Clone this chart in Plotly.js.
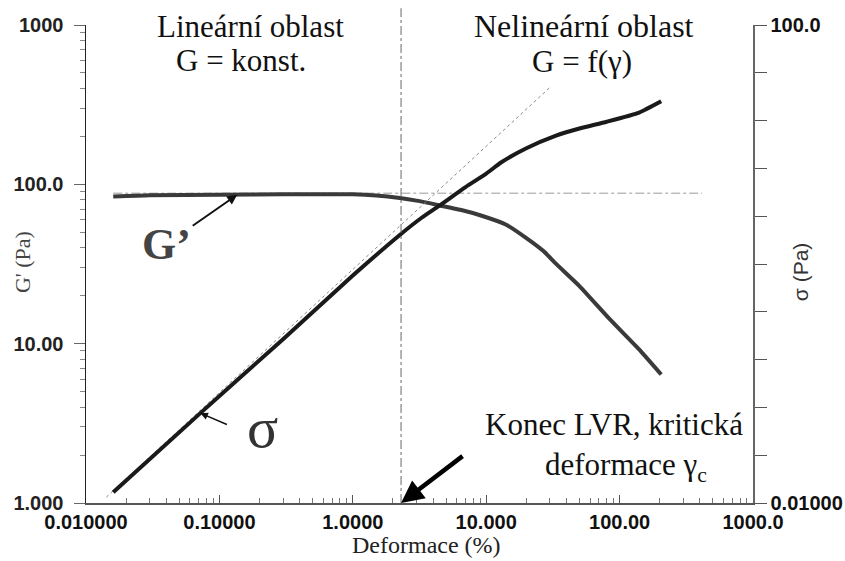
<!DOCTYPE html>
<html>
<head>
<meta charset="utf-8">
<script src="https://cdn.plot.ly/plotly-3.0.1.min.js"></script>
<style>html,body{margin:0;padding:0;background:#fff;}#chart{width:845px;height:561px;}</style>
</head>
<body>
<div id="chart"></div>
<script>
// Deformation (%) and storage modulus G' (Pa)
const strainG = [0.016, 0.03, 0.1, 0.3, 1.0, 1.5, 2.25, 3.0, 4.4, 6.5, 9.0, 14, 20, 27, 33, 50, 84, 140, 205];
const gPrime  = [84, 85.5, 86, 86.5, 86.5, 85, 82, 79, 74, 69, 64, 56, 46, 38, 32, 23, 14.3, 9.2, 6.4];
// Deformation (%) and shear stress sigma (Pa)
const strainS = [0.016, 0.072, 0.3, 1.0, 2.25, 3.3, 4.4, 7.0, 10, 13, 20, 33, 50, 80, 140, 205];
const sigma   = [0.0123, 0.0565, 0.235, 0.8, 1.75, 2.45, 3.05, 4.4, 5.7, 7.1, 9.3, 11.8, 13.6, 15.5, 18.5, 23];
// guide lines
const tangentX = [0.0142, 29.8];
const tangentS = [0.0112, 29.8];
const plateauX = [0.016, 415];
const plateauG = [88, 88];
const criticalStrain = 2.3;

const xTicks = [0.01, 0.1, 1, 10, 100, 1000];
const xTickText = ['0.010000', '0.10000', '1.0000', '10.000', '100.00', '1000.0'];
const yTicks = [1, 10, 100, 1000];
const yTickText = ['1.000', '10.00', '100.0', '1000'];
const y2Ticks = [100, 39.81, 15.85, 6.31, 2.512, 1, 0.3981, 0.1585, 0.0631, 0.02512, 0.01];
const y2TickText = ['100.0', '', '', '', '', '', '', '', '', '', '0.01000'];

function logMinors(lo, hi) {
  const out = [];
  for (let e = lo; e < hi; e++) for (let m = 2; m <= 9; m++) out.push(m * Math.pow(10, e));
  return out;
}

const serif = 'Liberation Serif, Times New Roman, serif';
const sans = 'Liberation Sans, Arial, sans-serif';

const traces = [
  {x: plateauX, y: plateauG, mode: 'lines', line: {color: '#999', width: 1, dash: 'dashdot'}, hoverinfo: 'skip'},
  {x: tangentX, y: tangentS, yaxis: 'y2', mode: 'lines', line: {color: '#888', width: 1, dash: 'dot'}, hoverinfo: 'skip'},
  {x: strainG, y: gPrime, mode: 'lines', line: {color: '#3a3a3a', width: 4, shape: 'spline', smoothing: 0.5}},
  {x: strainS, y: sigma, yaxis: 'y2', mode: 'lines', line: {color: '#1a1a1a', width: 4, shape: 'spline', smoothing: 0.5}}
];

function txt(px, py, text, font, extra) {
  return Object.assign({xref: 'paper', yref: 'paper', x: px, y: py, text: text, showarrow: false,
    xanchor: 'center', yanchor: 'middle', font: font}, extra || {});
}

const layout = {
  width: 845, height: 561,
  margin: {l: 86, r: 92, t: 25, b: 58},
  paper_bgcolor: '#fff', plot_bgcolor: '#fff',
  showlegend: false,
  xaxis: {
    type: 'log', range: [-2, 3],
    showline: true, linecolor: '#555', linewidth: 1.5,
    showgrid: false, zeroline: false,
    ticks: 'inside', ticklen: 8, tickcolor: '#555',
    tickvals: xTicks, ticktext: xTickText,
    tickfont: {family: sans, size: 20, color: '#111', weight: 'bold'},
    minor: {ticks: 'inside', ticklen: 5, tickcolor: '#777', tickvals: logMinors(-2, 3), showgrid: false}
  },
  yaxis: {
    type: 'log', range: [0, 3],
    showline: true, linecolor: '#222', linewidth: 1.5,
    showgrid: false, zeroline: false,
    ticks: 'outside', ticklen: 11, tickcolor: '#666',
    tickvals: yTicks, ticktext: yTickText, ticklabelstandoff: 6,
    tickfont: {family: sans, size: 20, color: '#222', weight: 'bold'},
    minor: {ticks: 'outside', ticklen: 5, tickcolor: '#888', tickvals: logMinors(0, 3), showgrid: false}
  },
  yaxis2: {
    type: 'log', range: [-2, 2], overlaying: 'y', side: 'right',
    showline: true, linecolor: '#666', linewidth: 1.5,
    showgrid: false, zeroline: false,
    ticks: 'outside', ticklen: 12, tickcolor: '#555',
    tickvals: y2Ticks, ticktext: y2TickText, ticklabelstandoff: 0,
    tickfont: {family: sans, size: 20, color: '#111', weight: 'bold'}
  },
  shapes: [
    {type: 'line', xref: 'x', yref: 'paper', x0: criticalStrain, x1: criticalStrain, y0: 0, y1: 1.035,
     line: {color: '#666', width: 1, dash: 'dashdot'}}
  ],
  annotations: [
    txt(0.246, 0.997, 'Lineární oblast', {family: serif, size: 31, color: '#111'}),
    txt(0.233, 0.926, 'G = konst.', {family: serif, size: 31, color: '#111'}),
    txt(0.747, 0.997, 'Nelineární oblast', {family: serif, size: 32, color: '#111'}),
    txt(0.744, 0.923, 'G = f(γ)', {family: serif, size: 31, color: '#111'}),
    txt(0.121, 0.54, '<b>G’</b>', {family: serif, size: 44, color: '#444'}),
    {x: Math.log10(0.136), y: Math.log10(86), text: '', showarrow: true, arrowhead: 2, arrowsize: 1,
     arrowwidth: 2, arrowcolor: '#111', ax: -46, ay: 32},
    txt(0.264, 0.157, 'σ', {family: serif, size: 58, color: '#333'}),
    {x: Math.log10(0.072), y: Math.log10(0.0565), yref: 'y2', text: '', showarrow: true, arrowhead: 2, arrowsize: 1,
     arrowwidth: 1.5, arrowcolor: '#111', ax: 28, ay: 12},
    txt(0.792, 0.164, 'Konec LVR, kritická', {family: serif, size: 31, color: '#111'}),
    txt(0.81, 0.075, 'deformace γ<sub>c</sub>', {family: serif, size: 31, color: '#111'}),
    {x: Math.log10(criticalStrain), y: 0, yref: 'paper', text: '', showarrow: true, arrowhead: 2, arrowsize: 1,
     arrowwidth: 4.5, arrowcolor: '#000', ax: 63, ay: -48},
    txt(0.511, -0.088, 'Deformace (%)', {family: serif, size: 24, color: '#222'}),
    txt(-0.096, 0.504, "G' (Pa)", {family: serif, size: 22, color: '#444'}, {textangle: -90}),
    txt(1.0705, 0.483, 'σ (Pa)', {family: sans, size: 21, color: '#333'}, {textangle: -90})
  ]
};

Plotly.newPlot('chart', traces, layout, {staticPlot: true, displayModeBar: false});
</script>
</body>
</html>
